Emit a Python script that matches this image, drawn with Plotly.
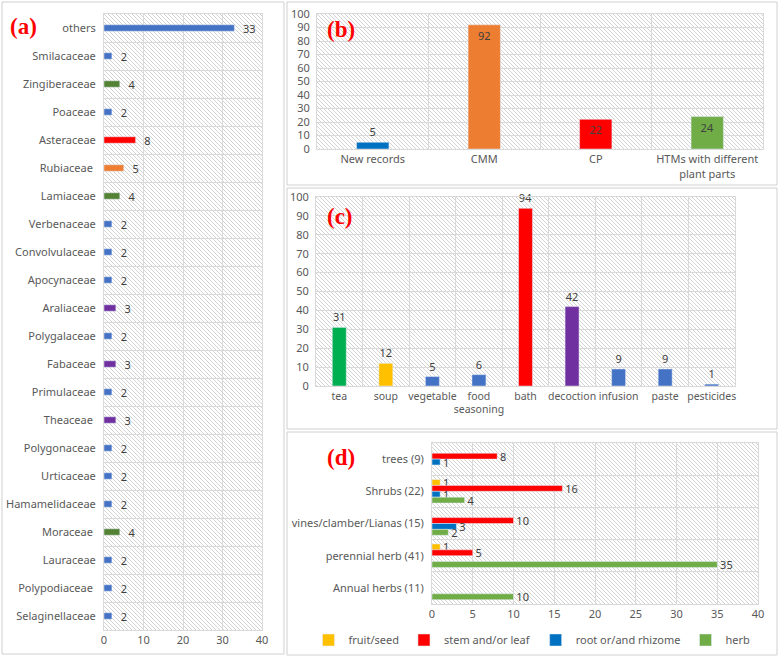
import base64
import struct
import zlib
import plotly.graph_objects as go

# ---------------- data ----------------
families = ["others", "Smilacaceae", "Zingiberaceae", "Poaceae", "Asteraceae", "Rubiaceae ",
            "Lamiaceae", "Verbenaceae", "Convolvulaceae", "Apocynaceae", "Araliaceae",
            "Polygalaceae", "Fabaceae", "Primulaceae", "Theaceae ", "Polygonaceae",
            "Urticaceae", "Hamamelidaceae", "Moraceae ", "Lauraceae", "Polypodiaceae ",
            "Selaginellaceae"]
family_counts = [33, 2, 4, 2, 8, 5, 4, 2, 2, 2, 3, 2, 3, 2, 3, 2, 2, 2, 4, 2, 2, 2]

record_cats = ["New records", "CMM", "CP", "HTMs with different<br>plant parts"]
record_vals = [5, 92, 22, 24]

use_cats = ["tea", "soup", "vegetable", "food<br>seasoning", "bath", "decoction",
            "infusion", "paste", "pesticides"]
use_vals = [31, 12, 5, 6, 94, 42, 9, 9, 1]

habit_cats = ["trees (9)", "Shrubs (22)", "vines/clamber/Lianas (15)",
              "perennial herb (41)", "Annual herbs (11)"]
fruit_seed = [None, 1, None, 1, None]
stem_leaf = [8, 16, 10, 5, None]
root_rhizome = [1, 1, 3, None, None]
herb = [None, 4, 2, 35, 10]

# ---------------- styles ----------------
BLUE = "#4472C4"
GREEN_A = "#548235"
RED = "#FF0000"
ORANGE = "#ED7D31"
PURPLE = "#7030A0"
family_colors = [BLUE, BLUE, GREEN_A, BLUE, RED, ORANGE, GREEN_A, BLUE, BLUE, BLUE, PURPLE,
                 BLUE, PURPLE, BLUE, PURPLE, BLUE, BLUE, BLUE, GREEN_A, BLUE, BLUE, BLUE]
record_colors = ["#0070C0", ORANGE, RED, "#70AD47"]
use_colors = ["#00B050", "#FFC000", BLUE, BLUE, RED, PURPLE, BLUE, BLUE, BLUE]

W, H = 780, 657
FONT = "Noto Sans"
TICK = dict(family=FONT, size=11, color="#595959")
TICK_C = dict(family=FONT, size=10.5, color="#595959")
VAL = dict(family=FONT, size=11, color="#404040")
GRID = "#d9d9d9"
NB = "\u00a0"


def px_x(a, b):
    return [a / W, b / W]


def px_y(top, bottom):
    return [1 - bottom / H, 1 - top / H]


# plot areas in pixels (left, right, top, bottom)
areas = {
    "a": (104, 262, 14, 630),
    "b": (317, 763, 14, 149),
    "c": (316, 735, 197, 386),
    "d": (432, 758, 443, 604),
}


def hatch_png(w, h):
    rows = []
    for i in range(h):
        row = bytearray([0])
        for j in range(w):
            row.append(212 if (i - j) % 4 == 0 else 255)
        rows.append(bytes(row))
    raw = b"".join(rows)

    def chunk(tag, data):
        c = struct.pack(">I", len(data)) + tag + data
        return c + struct.pack(">I", zlib.crc32(tag + data) & 0xffffffff)

    png = (b"\x89PNG\r\n\x1a\n" + chunk(b"IHDR", struct.pack(">IIBBBBB", w, h, 8, 0, 0, 0, 0))
           + chunk(b"IDAT", zlib.compress(raw, 9)) + chunk(b"IEND", b""))
    return "data:image/png;base64," + base64.b64encode(png).decode()


def hatch_image(area):
    l, r, t, b = area
    w, h = r - l, b - t
    return dict(source=hatch_png(w, h), xref="paper", yref="paper", x=l / W, y=1 - t / H,
                sizex=w / W, sizey=h / H, xanchor="left", yanchor="top",
                sizing="stretch", layer="below")


fig = go.Figure()

# (a)
fig.add_trace(go.Bar(
    y=families, x=family_counts, orientation="h", marker_color=family_colors,
    width=0.23, text=[NB * 2 + str(v) for v in family_counts], textposition="outside",
    textfont=VAL, constraintext="none", cliponaxis=False, xaxis="x", yaxis="y",
    showlegend=False))

# (b)
fig.add_trace(go.Bar(
    x=record_cats, y=record_vals, marker_color=record_colors, width=0.29,
    text=record_vals, textposition=["outside", "inside", "inside", "inside"],
    insidetextanchor="end", textfont=VAL, outsidetextfont=VAL, insidetextfont=VAL,
    constraintext="none", cliponaxis=False, xaxis="x2", yaxis="y2", showlegend=False))

# (c)
fig.add_trace(go.Bar(
    x=use_cats, y=use_vals, marker_color=use_colors, width=0.3,
    text=use_vals, textposition="outside", textfont=VAL, constraintext="none",
    cliponaxis=False, xaxis="x3", yaxis="y3", showlegend=False))

# (d)
for name, vals, col in [("fruit/seed", fruit_seed, "#FFC000"),
                        ("stem and/or leaf", stem_leaf, "#FF0000"),
                        ("root or/and rhizome", root_rhizome, "#0070C0"),
                        ("herb", herb, "#70AD47")]:
    fig.add_trace(go.Bar(
        y=habit_cats, x=vals, orientation="h", name=name, marker_color=col,
        text=[("" if v is None else NB + str(v)) for v in vals], textposition="outside",
        textfont=VAL, constraintext="none", cliponaxis=False, xaxis="x4", yaxis="y4"))

common_cat = dict(type="category", tickson="boundaries", showgrid=True, gridcolor=GRID,
                  showline=True, linecolor=GRID, mirror=True, ticks="", tickfont=TICK,
                  automargin=False)
common_val = dict(showgrid=True, gridcolor=GRID, showline=True, linecolor=GRID, mirror=True,
                  ticks="", tickfont=TICK, zeroline=False, automargin=False)

la, ra, ta, ba = areas["a"]
lb, rb, tb, bb = areas["b"]
lc, rc, tc, bc = areas["c"]
ld, rd, td, bd = areas["d"]

fig.update_layout(
    width=W, height=H, autosize=False,
    margin=dict(l=0, r=0, t=0, b=0, autoexpand=False),
    paper_bgcolor="white", plot_bgcolor="#efefef",
    font=dict(family=FONT, size=11, color="#595959"),
    barmode="group", bargap=0.27, bargroupgap=0,
    xaxis=dict(domain=px_x(la, ra), range=[0, 40], dtick=10, anchor="y", **common_val),
    yaxis=dict(domain=px_y(ta, ba), autorange="reversed", anchor="x",
               ticklabelstandoff=5, **common_cat),
    xaxis2=dict(domain=px_x(lb, rb), anchor="y2", tickangle=0, **common_cat),
    yaxis2=dict(domain=px_y(tb, bb), range=[0, 100], dtick=10, anchor="x2",
                ticklabelstandoff=4, **common_val),
    xaxis3=dict(domain=px_x(lc, rc), anchor="y3", tickangle=0,
                **{**common_cat, "tickfont": TICK_C}),
    yaxis3=dict(domain=px_y(tc, bc), range=[0, 100], dtick=10, anchor="x3",
                ticklabelstandoff=4, **common_val),
    xaxis4=dict(domain=px_x(ld, rd), range=[0, 40], dtick=5, anchor="y4", **common_val),
    yaxis4=dict(domain=px_y(td, bd), autorange="reversed", anchor="x4",
                ticklabelstandoff=5, **common_cat),
    legend=dict(orientation="h", x=532 / W, xanchor="center", y=1 - 640 / H,
                yanchor="middle", font=dict(family=FONT, size=11, color="#595959"),
                bgcolor="rgba(0,0,0,0)", itemwidth=30, traceorder="normal"),
    images=[hatch_image(areas[k]) for k in "abcd"],
)

# panel frames
frames = [(2, 284, 2, 654), (287, 777, 2, 185), (287, 777, 188, 429), (287, 777, 432, 655)]
for l, r, t, b in frames:
    fig.add_shape(type="rect", xref="paper", yref="paper", x0=l / W, x1=r / W,
                  y0=1 - b / H, y1=1 - t / H, line=dict(color="#d0d0d0", width=1),
                  layer="below")

# panel letters
for txt, cx, cy in [("(a)", 23, 27), ("(b)", 341, 29), ("(c)", 340, 216), ("(d)", 341, 457)]:
    fig.add_annotation(text=f"<b>{txt}</b>", xref="paper", yref="paper", x=cx / W,
                       y=1 - cy / H, xanchor="center", yanchor="middle", showarrow=False,
                       font=dict(family="Liberation Serif", size=23, color="#FF0000"))

fig.write_html("out.html", config={"displayModeBar": False},
               post_script="document.body.style.margin='0';document.body.style.overflow='hidden';")
